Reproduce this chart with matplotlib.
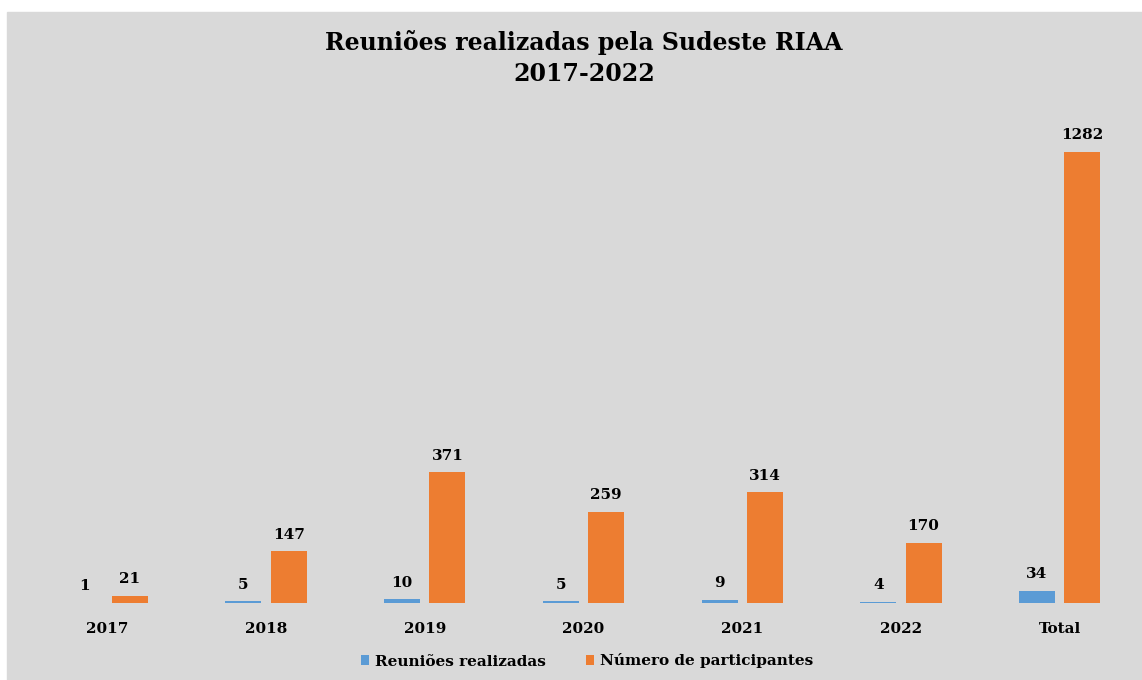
import matplotlib.pyplot as plt
import numpy as np
from matplotlib.patches import Rectangle

categories = ['2017', '2018', '2019', '2020', '2021', '2022', 'Total']
reunioes = [1, 5, 10, 5, 9, 4, 34]
participantes = [21, 147, 371, 259, 314, 170, 1282]

blue = '#5b9bd5'
orange = '#ed7d31'
bg = '#d9d9d9'

plt.rcParams['font.family'] = ['DejaVu Serif']
plt.rcParams['font.weight'] = 'bold'

fig = plt.figure(figsize=(11.42, 6.8), dpi=100)
fig.patches.append(Rectangle((7 / 1142, 0), 1 - 7 / 1142, 1 - 12 / 680,
                             transform=fig.transFigure, color=bg, zorder=-10))

# axes in pixel coords: baseline at y=603, top of area at y=110
ax = fig.add_axes([28 / 1142, (680 - 603) / 680, (1139 - 28) / 1142, (603 - 110) / 680])
ax.set_facecolor('none')
ax.set_zorder(5)

x = np.arange(len(categories))
w = 0.227
off = 0.143
b1 = ax.bar(x - off, reunioes, w, color=blue, label='Reuniões realizadas')
b2 = ax.bar(x + off, participantes, w, color=orange, label='Número de participantes')

for rect, v in zip(b1, reunioes):
    ax.annotate(str(v), (rect.get_x() + rect.get_width() / 2, rect.get_height()),
                xytext=(0, 7), textcoords='offset points', ha='center', va='bottom',
                fontsize=11, fontweight='bold')
for rect, v in zip(b2, participantes):
    ax.annotate(str(v), (rect.get_x() + rect.get_width() / 2, rect.get_height()),
                xytext=(0, 7), textcoords='offset points', ha='center', va='bottom',
                fontsize=11, fontweight='bold')

ax.set_xlim(-0.5, len(categories) - 0.5)
ax.set_ylim(0, 1400)
ax.set_xticks(x)
ax.set_xticklabels(categories, fontsize=11, fontweight='bold')
ax.tick_params(axis='x', length=0, pad=14)
ax.set_yticks([])
for s in ax.spines.values():
    s.set_visible(False)

fig.text(584 / 1142, 1 - 58 / 680, 'Reuniões realizadas pela Sudeste RIAA\n2017-2022',
         ha='center', va='center', fontsize=17, fontweight='bold', linespacing=1.4)

leg = fig.legend(loc='center', bbox_to_anchor=(587 / 1142, 1 - 661 / 680), ncol=2,
                 frameon=False, fontsize=11, handlelength=0.55, handleheight=0.55,
                 columnspacing=2.6, handletextpad=0.4)

plt.savefig('out.png', dpi=100)
plt.close()
